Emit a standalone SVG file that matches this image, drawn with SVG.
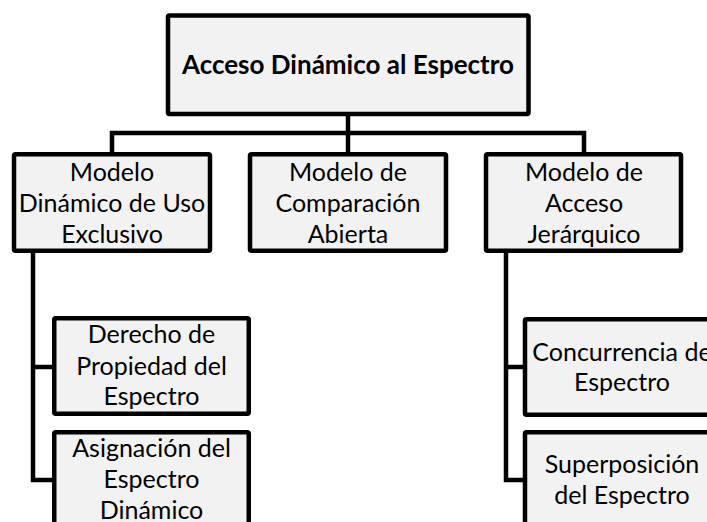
<svg xmlns="http://www.w3.org/2000/svg" width="707" height="522" viewBox="0 0 707 522">
<style>
.box{fill:#f2f2f2;stroke:#000;stroke-width:4.5}
.t{font-family:Lato,"Open Sans","Liberation Sans",sans-serif;font-size:25px;fill:#000;text-anchor:middle}
.b{font-weight:bold;font-size:26px}
.c{fill:none;stroke:#000;stroke-width:4.5;stroke-linejoin:miter}
</style>
<rect width="707" height="522" fill="#fff"/>
<g id="connectors">
<path class="c" d="M112,154 V133 H584 V154 M348,113 V154"/>
<path class="c" d="M33,251 V480 H54 M33,367 H54"/>
<path class="c" d="M506,251 V480 H525 M506,367 H525"/>
</g>
<g id="root">
<rect class="box" x="168" y="15.5" width="360.5" height="98.5" rx="1.5"/>
<text class="t b" x="348" y="73.5">Acceso Dinámico al Espectro</text>
</g>
<g id="uso-exclusivo">
<rect class="box" x="14" y="154.25" width="196" height="96.5" rx="1.5"/>
<text class="t" x="112" y="181">Modelo</text>
<text class="t" x="112" y="212">Dinámico de Uso</text>
<text class="t" x="112" y="243">Exclusivo</text>
</g>
<g id="comparacion-abierta">
<rect class="box" x="250" y="154.25" width="196" height="96.5" rx="1.5"/>
<text class="t" x="348" y="181">Modelo de</text>
<text class="t" x="348" y="212">Comparación</text>
<text class="t" x="348" y="243">Abierta</text>
</g>
<g id="acceso-jerarquico">
<rect class="box" x="486" y="154.25" width="195" height="96.5" rx="1.5"/>
<text class="t" x="584" y="181">Modelo de</text>
<text class="t" x="584" y="212">Acceso</text>
<text class="t" x="584" y="243">Jerárquico</text>
</g>
<g id="derecho-propiedad">
<rect class="box" x="54.25" y="318.25" width="194.5" height="95.5" rx="1.5"/>
<text class="t" x="151.5" y="343">Derecho de</text>
<text class="t" x="151.5" y="375">Propiedad del</text>
<text class="t" x="151.5" y="405">Espectro</text>
</g>
<g id="asignacion-dinamico">
<rect class="box" x="54.25" y="432.25" width="194.5" height="95.5" rx="1.5"/>
<text class="t" x="151.5" y="457">Asignación del</text>
<text class="t" x="151.5" y="488">Espectro</text>
<text class="t" x="151.5" y="519">Dinámico</text>
</g>
<g id="concurrencia">
<rect class="box" x="525" y="319.25" width="196" height="95.5" rx="1.5"/>
<text class="t" x="622" y="361">Concurrencia de</text>
<text class="t" x="622" y="391">Espectro</text>
</g>
<g id="superposicion">
<rect class="box" x="525" y="432.25" width="196" height="95.5" rx="1.5"/>
<text class="t" x="622" y="473">Superposición</text>
<text class="t" x="622" y="504">del Espectro</text>
</g>
</svg>
